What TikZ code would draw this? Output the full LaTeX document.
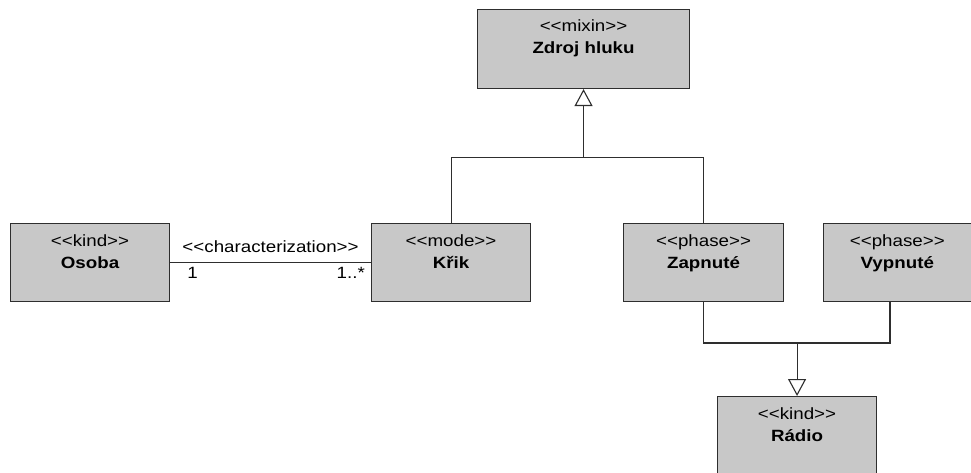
\documentclass[tikz,border=0pt]{standalone}
\usepackage{fontspec}
\setmainfont{Liberation Sans}[FakeStretch=1.15]
\usetikzlibrary{arrows.meta,calc}
\definecolor{boxfill}{HTML}{C8C8C8}
\definecolor{edgecol}{HTML}{2E2E2E}
% UML class box: name, x, y, width, height, stereotype, class name
\newcommand\umlclass[7]{%
  \node[cls,minimum width=#4,minimum height=#5] (#1) at (#2,#3) {};
  \node[stereo] (#1-st) at ($(#1.north)+(0,23)$) {<{}<#6>{}>};
  \node[cname] (#1-nm) at ($(#1.north)+(0,45)$) {#7};
}
\begin{document}
\begin{tikzpicture}[x=1pt,y=-1pt,
  cls/.style={draw=edgecol,fill=boxfill,line width=1.1pt,inner sep=0pt,anchor=north west,rectangle},
  stereo/.style={font=\fontsize{16.3}{18}\selectfont,anchor=base,inner sep=0pt},
  cname/.style={font=\bfseries\fontsize{16.3}{18}\selectfont,anchor=base,inner sep=0pt},
  lbl/.style={font=\fontsize{16.3}{18}\selectfont,inner sep=0pt},
  link/.style={draw=edgecol,line width=1.1pt},
  gen/.style={link,-{Triangle[open,width=18pt,length=17pt,fill=white]}}
]
\useasboundingbox (0,0) rectangle (971,473);
\clip (0,0) rectangle (971,473);

% classes
\umlclass{zdroj}{477}{9}{212pt}{79pt}{mixin}{Zdroj hluku}
\umlclass{osoba}{10}{223}{159pt}{78pt}{kind}{Osoba}
\umlclass{krik}{371}{223}{159pt}{78pt}{mode}{Křik}
\umlclass{zap}{623}{223}{160pt}{78pt}{phase}{Zapnuté}
\umlclass{vyp}{823}{223}{147.5pt}{78pt}{phase}{Vypnuté}
\umlclass{radio}{717}{396}{159pt}{95pt}{kind}{Rádio}

% characterization association
\draw[link] (osoba.east) -- (krik.west);
\node[lbl,anchor=base] (assoc) at ($(osoba.east)!0.5!(krik.west)+(0,-10)$) {<{}<characterization>{}>};
\node[lbl,anchor=base west] (m1) at ($(osoba.east)+(17,16)$) {1};
\node[lbl,anchor=base east] (m2) at ($(krik.west)+(-6,16)$) {1..*};

% generalization set to Zdroj hluku
\coordinate (topjoin) at ($(zdroj.south)+(0,68)$);
\draw[link] (krik.north) |- (topjoin);
\draw[link] (zap.north) |- (topjoin);
\draw[gen] (topjoin) -- (zdroj.south);

% generalization set to Rádio
\coordinate (botjoin) at ($(radio.north)+(0,-53)$);
\coordinate (vypfoot) at ($(vyp.south west)+(67,0)$);
\draw[link] (zap.south) |- (botjoin);
\draw[link] (vypfoot) |- (botjoin);
\draw[gen] (botjoin) -- (radio.north);
\end{tikzpicture}
\end{document}
